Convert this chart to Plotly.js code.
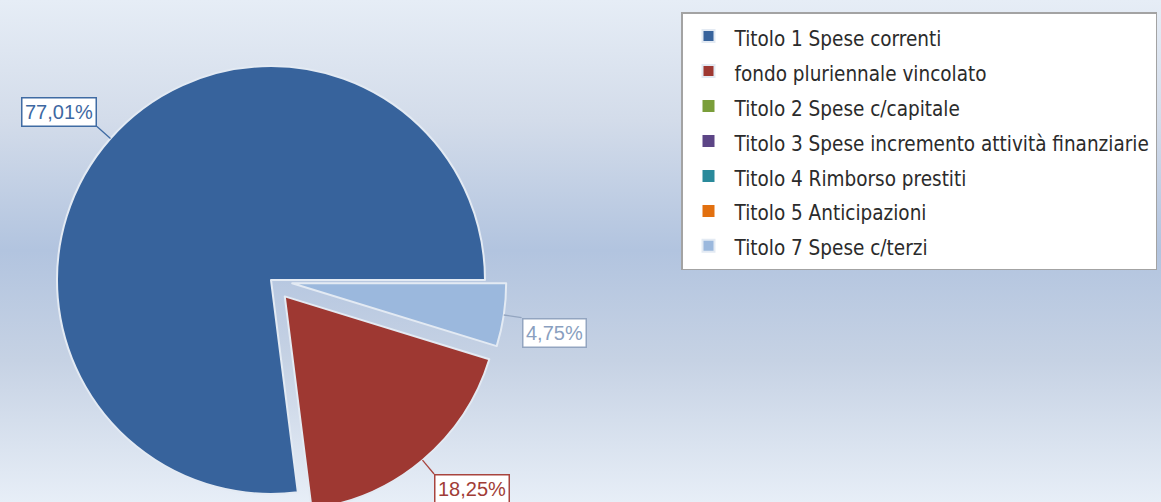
<!DOCTYPE html>
<html>
<head>
<meta charset="utf-8">
<script src="https://cdn.plot.ly/plotly-3.0.1.min.js"></script>
<style>
html,body{margin:0;padding:0;overflow:hidden;width:1161px;height:502px;}
#wrap{width:1161px;height:502px;overflow:hidden;
  background:linear-gradient(to bottom,#e6edf6 0px,#d3dcea 120px,#b2c4df 250px,#c6d2e4 360px,#e7eef7 502px);}
#chart{width:1161px;height:520px;}
</style>
</head>
<body>
<div id="wrap"><div id="chart"></div></div>
<script>
// ---- data ----
const categories = [
  "Titolo 1 Spese correnti",
  "fondo pluriennale vincolato",
  "Titolo 2 Spese c/capitale",
  "Titolo 3 Spese incremento attività finanziarie",
  "Titolo 4 Rimborso prestiti",
  "Titolo 5 Anticipazioni",
  "Titolo 7 Spese c/terzi"
];
const values = [77.01, 18.25, 0, 0, 0, 0, 4.75];
const pulls = [0, 0.1, 0, 0, 0, 0, 0.1];

// ---- style ----
const sliceColors = ["#37639c", "#9e3832", "#7a9e3a", "#5c4586", "#2a8a9b", "#e2700f", "#9bb8dd"];
const labelTextColors = ["#3d68a2", "#a13d37", "#6f8f33", "#5c4586", "#2a8a9b", "#d8680c", "#8a9fc0"];
const labelBorderColors = ["#3f6ba3", "#a8443e", "#6f8f33", "#5c4586", "#2a8a9b", "#d8680c", "#93a5c0"];

const W = 1161, H = 520;
const CX = 271, CY = 280, R = 214, START = 90, LEADER = 18;

const total = values.reduce((a, b) => a + b, 0);
const maxPull = Math.max(...pulls);
const half = R * (1 + maxPull);
const px = x => x / W;
const py = y => 1 - y / H;
const fmt = v => v.toFixed(2).replace('.', ',') + '%';

const trace = {
  type: 'pie',
  labels: categories.map(c => '<span style="font-size:20.5px">' + c + '</span>'),
  values: values,
  pull: pulls,
  sort: false,
  direction: 'counterclockwise',
  rotation: START - 360 * values[0] / total,
  textinfo: 'none',
  hoverinfo: 'label+percent',
  marker: {
    colors: sliceColors,
    line: { color: '#e3eaf3', width: values.map(v => (v > 0 ? 2 : 0)) }
  },
  domain: { x: [px(CX - half), px(CX + half)], y: [py(CY + half), py(CY - half)] }
};

const shapes = [], annotations = [];
let cum = 0;
values.forEach((v, i) => {
  const f = v / total;
  if (v > 0) {
    const mid = (START - 360 * (cum + f / 2)) * Math.PI / 180;
    const sx = Math.sin(mid), sy = -Math.cos(mid);
    const d = R * (1 + pulls[i]);
    const ex = CX + sx * d, ey = CY + sy * d;
    const lx = ex + sx * LEADER, ly = ey + sy * LEADER;
    shapes.push({
      type: 'line', xref: 'paper', yref: 'paper', layer: 'above',
      x0: px(ex), y0: py(ey), x1: px(lx), y1: py(ly),
      line: { color: labelBorderColors[i], width: 1.3 }
    });
    annotations.push({
      xref: 'paper', yref: 'paper', x: px(lx), y: py(ly),
      xanchor: sx > 0 ? 'left' : 'right', yanchor: sy > 0 ? 'top' : 'bottom',
      text: fmt(v), showarrow: false,
      bgcolor: '#ffffff', bordercolor: labelBorderColors[i], borderwidth: 1.5, borderpad: 2.5,
      font: { family: 'Liberation Sans, Arial, sans-serif', size: 20, color: labelTextColors[i] }
    });
  }
  cum += f;
});

const layout = {
  width: W, height: H,
  margin: { l: 0, r: 0, t: 0, b: 0 },
  paper_bgcolor: 'rgba(0,0,0,0)',
  plot_bgcolor: 'rgba(0,0,0,0)',
  showlegend: true,
  legend: {
    x: px(681), xanchor: 'left', y: py(12), yanchor: 'top',
    bgcolor: '#ffffff', bordercolor: '#a3a3a3', borderwidth: 1.5,
    itemwidth: 42,
    font: { family: 'DejaVu Sans Condensed, Liberation Sans Narrow, sans-serif', size: 24.6, color: '#2b2b2b' }
  },
  shapes: shapes,
  annotations: annotations
};

Plotly.newPlot('chart', [trace], layout, { displayModeBar: false, responsive: false });
</script>
</body>
</html>
